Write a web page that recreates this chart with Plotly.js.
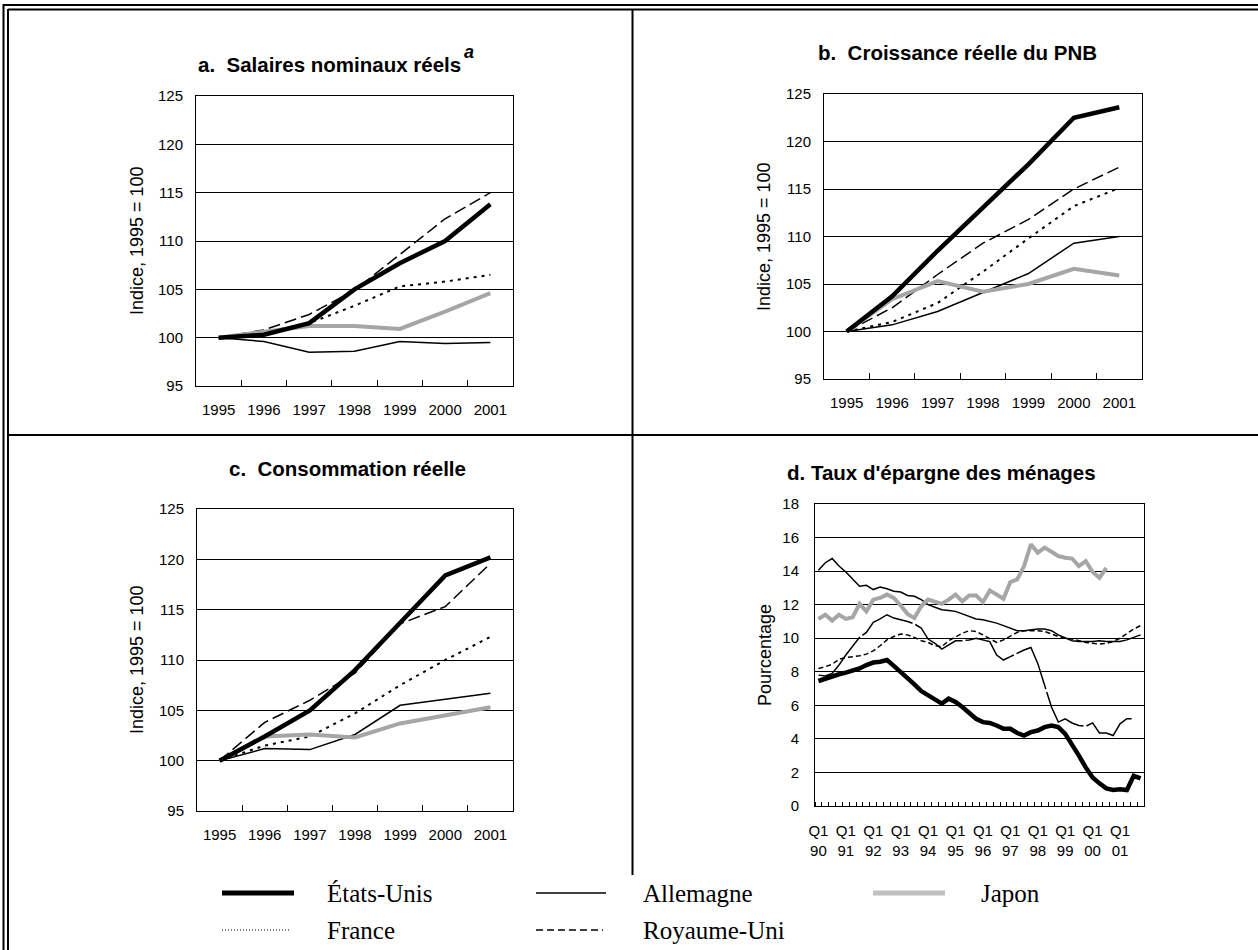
<!DOCTYPE html>
<html>
<head>
<meta charset="utf-8">
<script src="https://cdn.plot.ly/plotly-3.0.1.min.js"></script>
<style>html,body{margin:0;padding:0;background:#fff;}#chart{width:1258px;height:950px;}</style>
</head>
<body>
<div id="chart"></div>
<script>
// ---------- DATA ----------
const years = ['1995', '1996', '1997', '1998', '1999', '2000', '2001'];

// a. Salaires nominaux réels
const salUS = [100, 100.3, 101.5, 105.0, 107.7, 110.0, 113.8];
const salDE = [100, 99.6, 98.5, 98.6, 99.6, 99.4, 99.5];
const salJP = [100, 100.6, 101.2, 101.2, 100.9, 102.7, 104.6];
const salFR = [100, 100.5, 101.5, 103.3, 105.3, 105.8, 106.5];
const salUK = [100, 100.8, 102.4, 104.9, 108.6, 112.3, 115.0];

// b. Croissance réelle du PNB
const pnbUS = [100, 103.7, 108.5, 113.0, 117.6, 122.5, 123.6];
const pnbDE = [100, 100.7, 102.1, 104.1, 106.1, 109.3, 110.0];
const pnbJP = [100, 103.4, 105.3, 104.2, 105.0, 106.6, 105.9];
const pnbFR = [100, 101.0, 103.0, 106.3, 109.8, 113.2, 115.1];
const pnbUK = [100, 102.5, 106.0, 109.3, 111.8, 115.0, 117.3];

// c. Consommation réelle
const conUS = [100, 102.4, 105.0, 109.0, 113.7, 118.4, 120.2];
const conDE = [100, 101.2, 101.1, 102.6, 105.5, 106.1, 106.7];
const conJP = [100, 102.4, 102.6, 102.3, 103.7, 104.5, 105.3];
const conFR = [100, 101.5, 102.4, 104.7, 107.5, 110.0, 112.3];
const conUK = [100, 103.8, 106.0, 108.7, 113.6, 115.3, 119.6];

// d. Taux d'épargne des ménages (trimestriel, T1 1990 - T4 2001)
const savUS = [7.45, 7.6, 7.75, 7.85, 7.95, 8.05, 8.2, 8.4, 8.55, 8.6, 8.7, 8.35,
               8.0, 7.6, 7.25, 6.85, 6.6, 6.35, 6.1, 6.4, 6.2, 5.9, 5.55, 5.2,
               5.0, 4.95, 4.8, 4.6, 4.6, 4.35, 4.2, 4.4, 4.5, 4.7, 4.8, 4.7,
               4.3, 3.7, 3.0, 2.3, 1.7, 1.35, 1.05, 0.95, 1.0, 0.95, 1.8, 1.65];
const savDE = [14.05, 14.5, 14.75, 14.3, 13.95, 13.55, 13.1, 13.15, 12.9, 13.05, 12.95, 12.8,
               12.75, 12.55, 12.5, 12.3, 12.0, 11.85, 11.7, 11.65, 11.6, 11.45, 11.3, 11.15,
               11.1, 11.0, 10.9, 10.75, 10.6, 10.45, 10.45, 10.5, 10.55, 10.55, 10.45, 10.2,
               10.0, 9.85, 9.8, 9.8, 9.8, 9.85, 9.8, 9.8, 9.8, 9.9, 10.05, 10.2];
const savJP = [11.15, 11.4, 11.05, 11.4, 11.15, 11.25, 12.05, 11.6, 12.3, 12.4, 12.6, 12.4,
               11.95, 11.45, 11.2, 11.9, 12.3, 12.2, 12.05, 12.3, 12.6, 12.2, 12.55, 12.55,
               12.15, 12.85, 12.6, 12.35, 13.35, 13.5, 14.3, 15.6, 15.1, 15.4, 15.15, 14.9,
               14.8, 14.75, 14.3, 14.6, 13.95, 13.6, 14.2, null, null, null, null, null];
const savFR = [8.2, 8.3, 8.45, 8.75, 8.85, 8.9, 8.95, 9.05, 9.25, 9.55, 9.9, 10.1,
               10.25, 10.2, 10.05, 9.85, 9.75, 9.55, 9.5, 9.85, 10.1, 10.3, 10.45, 10.4,
               10.2, 9.95, 9.75, 9.9, 10.1, 10.35, 10.45, 10.45, 10.45, 10.4, 10.25, 10.1,
               10.0, 9.95, 9.85, 9.75, 9.7, 9.65, 9.7, 9.8, 10.0, 10.3, 10.55, 10.75];
const savUK = [7.8, 7.75, 7.9, 8.4, 9.0, 9.55, 10.05, 10.35, 10.95, 11.15, 11.4, 11.2,
               11.1, 11.0, 10.85, 10.6, 9.95, 9.7, 9.35, 9.6, 9.85, 9.85, 9.9, 10.0,
               9.9, 9.8, 9.0, 8.7, 8.9, 9.1, 9.3, 9.45, 8.5, 7.2, 5.9, 5.0,
               5.2, 4.95, 4.8, 4.75, 4.95, 4.35, 4.35, 4.2, 4.9, 5.2, 5.2, null];
const quarterTickPos = [0, 4, 8, 12, 16, 20, 24, 28, 32, 36, 40, 44];
const quarterTickText = ['Q1<br>90', 'Q1<br>91', 'Q1<br>92', 'Q1<br>93', 'Q1<br>94', 'Q1<br>95',
                         'Q1<br>96', 'Q1<br>97', 'Q1<br>98', 'Q1<br>99', 'Q1<br>00', 'Q1<br>01'];

const seriesNames = ['États-Unis', 'Allemagne', 'Japon', 'France', 'Royaume-Uni'];

// ---------- STYLES ----------
const W = 1258, H = 950;
const px = v => v / W;
const py = v => 1 - v / H;
const SANS = 'Liberation Sans, Arial, sans-serif';
const SERIF = 'Liberation Serif, Times New Roman, serif';

const styleUS = {color: '#000000', width: 4.5};
const styleDE = {color: '#000000', width: 1.5};
const styleJP = {color: '#a6a6a6', width: 4};
const styleFR = {color: '#000000', width: 2, dash: '3px,5px'};
const styleUK = {color: '#000000', width: 1.5, dash: '12px,5px'};
const styleFRd = {color: '#000000', width: 1.5, dash: '5px,3px'};
const styleUKd = {color: '#000000', width: 1.5, dash: '60px,3px'};

function panelTraces(xs, de, uk, fr, jp, us, xa, ya, frStyle, ukStyle) {
  const mk = (y, name, line) => ({
    x: xs, y: y, name: name, type: 'scatter', mode: 'lines', line: line,
    xaxis: xa, yaxis: ya, showlegend: false, connectgaps: false, hoverinfo: 'x+y+name'
  });
  return [
    mk(de, seriesNames[1], styleDE),
    mk(uk, seriesNames[4], ukStyle),
    mk(fr, seriesNames[3], frStyle),
    mk(jp, seriesNames[2], styleJP),
    mk(us, seriesNames[0], styleUS)
  ];
}

const qIdx = savUS.map((_, i) => i);

const traces = [].concat(
  panelTraces(years, salDE, salUK, salFR, salJP, salUS, 'x', 'y', styleFR, styleUK),
  panelTraces(years, pnbDE, pnbUK, pnbFR, pnbJP, pnbUS, 'x2', 'y2', styleFR, styleUK),
  panelTraces(years, conDE, conUK, conFR, conJP, conUS, 'x3', 'y3', styleFR, styleUK),
  panelTraces(qIdx, savDE, savUK, savFR, savJP, savUS, 'x4', 'y4', styleFRd, styleUKd)
);

const tickFont = {family: SANS, size: 15, color: '#000'};

function catX(domain, anchor) {
  return {
    domain: domain, anchor: anchor, type: 'category', range: [-0.5, 6.5],
    showline: true, mirror: true, linecolor: '#000', linewidth: 1,
    showgrid: false, zeroline: false,
    ticks: 'inside', tickson: 'boundaries', ticklen: 6, tickcolor: '#000', tickwidth: 1,
    tickfont: tickFont, ticklabelstandoff: 10, fixedrange: true
  };
}
function idxY(domain, anchor) {
  return {
    domain: domain, anchor: anchor, range: [95, 125], dtick: 5, tick0: 95,
    showline: true, mirror: true, linecolor: '#000', linewidth: 1,
    showgrid: true, gridcolor: '#000', gridwidth: 1, zeroline: false,
    ticks: '', tickfont: tickFont, ticklabelstandoff: 9, fixedrange: true
  };
}

const layout = {
  width: W, height: H,
  margin: {l: 0, r: 0, t: 0, b: 0},
  paper_bgcolor: '#fff', plot_bgcolor: '#fff',
  showlegend: false,
  font: {family: SANS, color: '#000', size: 15},
  xaxis: catX([px(196), px(513)], 'y'),
  yaxis: idxY([py(386), py(96)], 'x'),
  xaxis2: catX([px(824), px(1142)], 'y2'),
  yaxis2: idxY([py(379), py(94)], 'x2'),
  xaxis3: catX([px(197), px(513)], 'y3'),
  yaxis3: idxY([py(811), py(509)], 'x3'),
  xaxis4: {
    domain: [px(815), px(1144)], anchor: 'y4', type: 'linear', range: [-0.5, 47.5],
    showline: true, mirror: true, linecolor: '#000', linewidth: 1,
    showgrid: false, zeroline: false,
    tickmode: 'array', tickvals: quarterTickPos, ticktext: quarterTickText,
    ticks: '', tickfont: tickFont, ticklabelstandoff: 11,
    minor: {ticks: 'inside', dtick: 1, tick0: -0.5, ticklen: 4, tickcolor: '#000', tickwidth: 1, showgrid: false},
    fixedrange: true
  },
  yaxis4: {
    domain: [py(806), py(504)], anchor: 'x4', range: [0, 18], dtick: 2, tick0: 0,
    showline: true, mirror: true, linecolor: '#000', linewidth: 1,
    showgrid: true, gridcolor: '#000', gridwidth: 1, zeroline: false,
    ticks: '', tickfont: tickFont, ticklabelstandoff: 12, fixedrange: true
  },
  annotations: [],
  shapes: []
};

function ann(text, x, y, opts) {
  return Object.assign({
    text: text, x: px(x), y: py(y), xref: 'paper', yref: 'paper',
    showarrow: false, xanchor: 'center', yanchor: 'middle',
    font: {family: SANS, size: 20.5, color: '#000'}
  }, opts || {});
}

// Panel titles
layout.annotations.push(ann('<b>a.  Salaires nominaux réels</b>', 196, 65, {xanchor: 'left'}));
layout.annotations.push(ann('<b><i>a</i></b>', 462, 52, {xanchor: 'left', font: {family: SANS, size: 18, color: '#000'}}));
layout.annotations.push(ann('<b>b.  Croissance réelle du PNB</b>', 957, 53));
layout.annotations.push(ann('<b>c.  Consommation réelle</b>', 348, 468));
layout.annotations.push(ann("<b>d. Taux d'épargne des ménages</b>", 941, 472));

// Axis titles (rotated)
const yTitleFont = {family: SANS, size: 18, color: '#000'};
layout.annotations.push(ann('Indice, 1995 = 100', 137, 241, {textangle: -90, font: yTitleFont}));
layout.annotations.push(ann('Indice, 1995 = 100', 764, 236, {textangle: -90, font: yTitleFont}));
layout.annotations.push(ann('Indice, 1995 = 100', 137, 660, {textangle: -90, font: yTitleFont}));
layout.annotations.push(ann('Pourcentage', 765, 655, {textangle: -90, font: yTitleFont}));

// Legend (line samples + labels)
const legFont = {family: SERIF, size: 25, color: '#000'};
const legendRows = [
  {y: 893, items: [
    {x0: 222, x1: 294, line: {color: '#000', width: 5}, tx: 325, label: seriesNames[0]},
    {x0: 536, x1: 606, line: {color: '#000', width: 1.5}, tx: 641, label: seriesNames[1]},
    {x0: 873, x1: 945, line: {color: '#c0c0c0', width: 5}, tx: 979, label: seriesNames[2]}
  ]},
  {y: 930, items: [
    {x0: 222, x1: 291, line: {color: '#000', width: 1, dash: '1px,2px'}, tx: 325, label: seriesNames[3]},
    {x0: 536, x1: 603, line: {color: '#000', width: 1.5, dash: '7px,4px'}, tx: 641, label: seriesNames[4]}
  ]}
];
legendRows.forEach(r => r.items.forEach(it => {
  layout.shapes.push({type: 'line', xref: 'paper', yref: 'paper',
    x0: px(it.x0), x1: px(it.x1), y0: py(r.y), y1: py(r.y), line: it.line});
  layout.annotations.push(ann(it.label, it.tx, r.y, {xanchor: 'left', font: legFont}));
}));

// Frame lines
function hline(x0, x1, y, w) {
  layout.shapes.push({type: 'line', xref: 'paper', yref: 'paper', x0: px(x0), x1: px(x1),
    y0: py(y), y1: py(y), line: {color: '#000', width: w}});
}
function vline(x, y0, y1, w) {
  layout.shapes.push({type: 'line', xref: 'paper', yref: 'paper', x0: px(x), x1: px(x),
    y0: py(y0), y1: py(y1), line: {color: '#000', width: w}});
}
hline(3, 1258, 5, 2);
hline(8, 1258, 9.5, 2);
vline(3.5, 4, 950, 2);
vline(8, 9, 950, 2);
hline(8, 1258, 435, 2);
vline(632.5, 9, 875, 2);

Plotly.newPlot('chart', traces, layout, {displayModeBar: false, staticPlot: true});
</script>
</body>
</html>
